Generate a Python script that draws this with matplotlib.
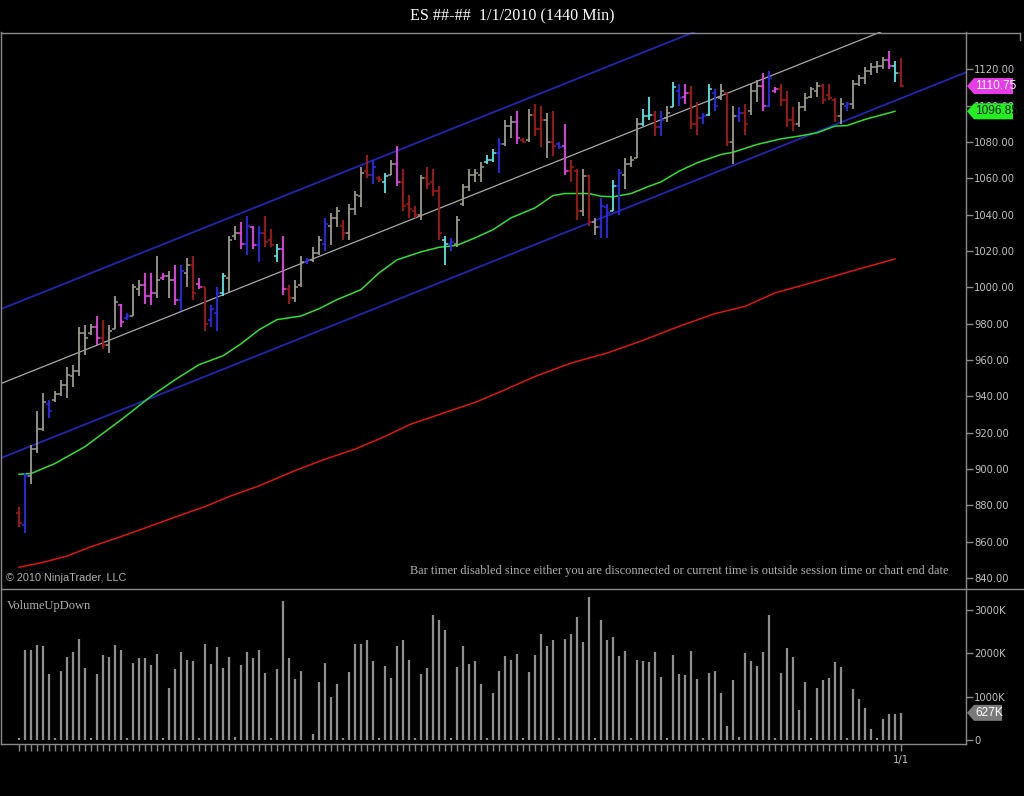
import numpy as np
import matplotlib
matplotlib.use("Agg")
import matplotlib.pyplot as plt
from matplotlib.patches import Polygon
from matplotlib.lines import Line2D
from matplotlib.transforms import blended_transform_factory

# ---------------- data ----------------
highs = [879, 898, 913, 932, 942, 938, 943, 949, 956, 957,
         978, 979, 980, 984, 982, 979, 995, 991, 986, 1002,
         1004, 1008, 1008, 1017, 1008, 1009, 1012, 1012, 1016, 1017,
         1005, 1000, 990, 1000, 1008, 1028, 1034, 1036, 1039, 1034,
         1034, 1039, 1032, 1024, 1028, 1001, 1004, 1017, 1016, 1022,
         1028, 1038, 1041, 1044, 1037, 1046, 1053, 1066, 1073, 1070,
         1061, 1063, 1070, 1078, 1065, 1051, 1045, 1062, 1066, 1065,
         1056, 1028, 1027, 1039, 1057, 1065, 1065, 1069, 1073, 1076,
         1082, 1092, 1094, 1097, 1082, 1098, 1101, 1100, 1096, 1097,
         1080, 1090, 1070, 1065, 1065, 1062, 1038, 1049, 1046, 1059,
         1065, 1071, 1072, 1093, 1098, 1105, 1097, 1097, 1100, 1113,
         1112, 1112, 1111, 1102, 1096, 1112, 1109, 1112, 1107, 1100,
         1099, 1101, 1112, 1114, 1118, 1119, 1110, 1112, 1108, 1099,
         1102, 1107, 1110, 1113, 1112, 1112, 1104, 1104, 1102, 1114,
         1117, 1121, 1123.5, 1124.5, 1127, 1130, 1124.5, 1126]
lows = [868, 865, 892, 909, 921, 928, 937, 940, 939, 945,
        951, 963, 974, 968, 966, 964, 977, 978, 982, 984,
        995, 991, 990, 994, 1004, 994, 990, 987, 1000, 993,
        999, 976, 978, 976, 995, 997, 1026, 1021, 1018, 1021,
        1014, 1022, 1022, 1014, 996, 991, 992, 1000, 1013, 1014,
        1018, 1020, 1023, 1033, 1026, 1026, 1040, 1044, 1060, 1057,
        1058, 1052, 1062, 1056, 1042, 1038, 1038, 1037, 1054, 1050,
        1026, 1012, 1020, 1022, 1045, 1053, 1058, 1058, 1068, 1069,
        1063, 1078, 1082, 1079, 1080, 1080, 1083, 1077, 1071, 1072,
        1076, 1062, 1058, 1037, 1039, 1034, 1029, 1027, 1027, 1042,
        1040, 1054, 1066, 1071, 1089, 1092, 1083, 1083, 1091, 1099,
        1100, 1101, 1087, 1084, 1090, 1094, 1097, 1103, 1078, 1068,
        1091, 1084, 1095, 1102, 1097, 1099, 1107, 1100, 1088, 1086,
        1088, 1097, 1104, 1105, 1101, 1103, 1091, 1090, 1097, 1098,
        1111, 1112, 1117, 1118, 1120, 1120, 1113, 1110.5]
opens = [876, 869, 896, 911, 922, 936, 938, 941, 946, 951,
         954, 975, 975, 978, 972, 968, 977, 990, 983, 984,
         999, 1001, 995, 997, 1005, 1006, 1004, 993, 1008, 1012,
         1002, 1000, 982, 986, 997, 1005, 1028, 1030, 1024, 1033,
         1023, 1030, 1026, 1017, 1021, 999, 994, 1001, 1014, 1015,
         1019, 1024, 1034, 1038, 1034, 1030, 1043, 1050, 1064, 1062,
         1060, 1058, 1062, 1068, 1058, 1046, 1042, 1040, 1060, 1058,
         1053, 1026, 1024, 1024, 1046, 1055, 1062, 1062, 1069, 1070,
         1074, 1079, 1089, 1091, 1081, 1081, 1095, 1087, 1092, 1080,
         1079, 1078, 1064, 1064, 1042, 1061, 1036, 1033, 1044, 1042,
         1056, 1062, 1068, 1071, 1090, 1094, 1095, 1088, 1093, 1099,
         1108, 1105, 1107, 1090, 1093, 1095, 1107, 1104, 1107, 1080,
         1094, 1096, 1097, 1108, 1111, 1100, 1108, 1109, 1103, 1092,
         1090, 1099, 1105, 1108, 1111, 1106, 1103, 1094, 1100, 1101,
         1112, 1115, 1119, 1121, 1122, 1125, 1122, 1118]
closes = [870, 896, 911, 922, 937, 932, 941, 946, 952, 954,
          975, 972, 978, 972, 968, 976, 992, 981, 984, 1000,
          1001, 995, 997, 1004, 1006, 1004, 993, 1009, 1012, 997,
          1000, 980, 988, 997, 1006, 1026, 1030, 1024, 1034, 1023,
          1030, 1025, 1023, 1021, 999, 994, 1000, 1014, 1015, 1019,
          1026, 1035, 1038, 1042, 1030, 1043, 1051, 1063, 1062, 1066,
          1059, 1061, 1068, 1058, 1045, 1043, 1040, 1060, 1057, 1053,
          1030, 1024, 1025, 1037, 1055, 1062, 1063, 1066, 1070, 1074,
          1079, 1089, 1091, 1082, 1080, 1095, 1087, 1092, 1080, 1078,
          1077, 1064, 1066, 1042, 1061, 1036, 1033, 1045, 1041, 1056,
          1063, 1068, 1070, 1090, 1094, 1095, 1088, 1092, 1096, 1110,
          1104, 1107, 1090, 1093, 1094, 1109, 1100, 1108, 1080, 1094,
          1096, 1090, 1108, 1111, 1100, 1115, 1109, 1103, 1092, 1090,
          1099, 1104, 1109, 1111, 1103, 1104, 1094, 1101, 1101, 1112,
          1115, 1119, 1121, 1122, 1125, 1122, 1118, 1110.75]
bar_codes = ("rbgggbgggg" "gggmrggmbg" "gmmgmgmbgr" "mrbbcggmbm"
             "brrcmrggbg" "gbggrgggrb" "rcgmrrrgrr" "rcbgggggcc"
             "bggmrgrrgr" "bmrrgrgbbc" "bgggccrbgc" "bmrrbcbgrg"
             "brggmbmrrr" "ggggrrrgbg" "gggggmcr")
volume_k = [50, 2080, 2080, 2190, 2170, 1520, 50, 1590, 1910, 2030,
            2320, 1660, 50, 1520, 1960, 1910, 2190, 2070, 50, 1780,
            1890, 1890, 1730, 1990, 50, 1190, 1640, 2030, 1840, 1820,
            50, 2220, 1760, 2140, 1660, 1910, 70, 1730, 2030, 1890,
            2070, 1550, 50, 1640, 3210, 1890, 1410, 1590, 0, 140,
            1330, 1780, 990, 1300, 50, 1570, 2220, 2220, 2300, 1820,
            50, 1700, 1430, 2180, 2300, 1850, 50, 1520, 1660, 2890,
            2760, 2540, 50, 1680, 2180, 1760, 1830, 1300, 50, 1090,
            1600, 1940, 1850, 1990, 50, 1570, 1960, 2450, 2180, 2310,
            50, 2330, 2450, 2840, 2260, 3310, 50, 2760, 2310, 2380,
            1940, 2050, 50, 1850, 1830, 1810, 2030, 1450, 50, 1960,
            1520, 1500, 2050, 1410, 50, 1550, 1590, 1090, 320, 1390,
            80, 2010, 1820, 1710, 2030, 2890, 50, 1550, 2120, 1910,
            690, 1340, 50, 1200, 1390, 1430, 1800, 1690, 50, 1180,
            950, 740, 250, 50, 480, 600, 600, 627]

# moving averages (read at bar indexes)
green_ma_idx = [0, 2, 6, 11, 17, 22, 26, 30, 34, 37, 40, 43, 47, 50, 53, 57,
                60, 63, 67, 70, 73, 76, 79, 82, 86, 89, 91, 95, 97, 99, 102,
                105, 107, 110, 113, 117, 119, 123, 127, 130, 133, 136, 138, 141, 146]
green_ma_val = [897.1, 897.5, 903.0, 912.3, 927.0, 940.0, 949.1, 957.4, 962.3,
                968.9, 976.6, 982.2, 984.2, 988.2, 993.2, 998.7, 1007.9, 1015.1,
                1019.5, 1022.0, 1023.1, 1027.2, 1031.7, 1038.2, 1043.7, 1050.5,
                1051.6, 1051.6, 1050.1, 1049.8, 1051.6, 1055.6, 1058.0, 1063.9,
                1068.5, 1073.1, 1074.3, 1078.6, 1081.7, 1083.2, 1085.0, 1088.7,
                1089.0, 1092.4, 1096.85]
red_ma_idx = [0, 4, 8, 12, 17, 22, 27, 31, 35, 40, 46, 51, 56, 61, 65, 71, 76,
              81, 86, 92, 98, 104, 110, 116, 121, 126, 132, 138, 146]
red_ma_val = [845.9, 848.6, 852.1, 857.2, 862.8, 868.7, 874.7, 879.3, 884.8,
              890.7, 899.1, 905.4, 910.9, 917.9, 924.3, 931.1, 936.6, 943.6,
              950.9, 958.3, 963.8, 970.8, 978.5, 985.5, 989.5, 996.9, 1002.4,
              1008.2, 1015.6]

# regression channel (midline value at first and last bar, half width)
chan_mid_first = 951.0
chan_mid_last = 1145.0
chan_half_width = 41.0

price_ticks = [840, 860, 880, 900, 920, 940, 960, 980, 1000, 1020, 1040,
               1060, 1080, 1100, 1120]
volume_ticks_k = [0, 1000, 2000, 3000]
volume_tick_labels = ["0", "1000K", "2000K", "3000K"]
last_price = 1110.75
green_ma_last = 1096.85
last_volume_k = 627
x_label_text = "1/1"

title = "ES ##-##  1/1/2010 (1440 Min)"
copyright_text = "\u00a9 2010 NinjaTrader, LLC"
timer_text = ("Bar timer disabled since either you are disconnected or current "
              "time is outside session time or chart end date")
vol_title = "VolumeUpDown"

# ---------------- styles ----------------
W, H = 1024, 796
BG = "black"
FRAME = "#8a8a8a"
TXT = "#c0c0c0"
color_map = {"g": "#9c9c8c", "m": "#ee44ee", "b": "#2b2bf0",
             "r": "#a81818", "c": "#55e8e8"}

n = len(highs)
idx = np.arange(n)
bar_colors = [color_map[ch] for ch in bar_codes]

fig = plt.figure(figsize=(W / 100, H / 100), dpi=100, facecolor=BG)

def fx(px):
    return px / W

def fy(py):
    return 1 - py / H

# price axes: x 1..966, y 32..588
ax = fig.add_axes([fx(1), fy(588), fx(965), (588 - 32) / H], facecolor=BG)
vax = fig.add_axes([fx(1), fy(744), fx(965), (744 - 589) / H], facecolor=BG)

xmin, xmax = -3.0, -3.0 + 965 / 6.0
ax.set_xlim(xmin, xmax)
vax.set_xlim(xmin, xmax)
ax.set_ylim(834.5, 1140.5)
vax.set_ylim(-92, 3485)

# channel lines
xs = np.array([xmin, xmax])
slope = (chan_mid_last - chan_mid_first) / (n - 1)
mid = chan_mid_first + slope * xs
ax.plot(xs, mid + chan_half_width, color="#2424b4", lw=1.3, zorder=2)
ax.plot(xs, mid - chan_half_width, color="#2424b4", lw=1.3, zorder=2)
ax.plot(xs, mid, color="#a8a8a8", lw=0.9, zorder=2)

# moving averages
ax.plot(red_ma_idx, red_ma_val, color="#dd1414", lw=1.1, zorder=3)
ax.plot(green_ma_idx, green_ma_val, color="#2ee02e", lw=1.1, zorder=3)

# OHLC bars
ax.vlines(idx, lows, highs, colors=bar_colors, lw=1.3, zorder=4)
ax.hlines(opens, idx - 0.42, idx, colors=bar_colors, lw=1.1, zorder=4)
ax.hlines(closes, idx, idx + 0.42, colors=bar_colors, lw=1.1, zorder=4)

# volume bars
vax.vlines(idx, 0, volume_k, colors="#8e8e8e", lw=1.6, zorder=3)

# axes styling
for a in (ax, vax):
    for s in a.spines.values():
        s.set_color(FRAME)
        s.set_linewidth(1.0)
    a.yaxis.tick_right()
    a.tick_params(axis="y", colors=FRAME, labelcolor=TXT, length=5, width=1,
                  pad=1, labelsize=7.2, direction="out")
ax.spines["top"].set_visible(False)
ax.spines["bottom"].set_visible(False)

ax.set_xticks([])
ax.set_yticks(price_ticks)
ax.set_yticklabels([f"{v:.2f}" for v in price_ticks])

vax.set_yticks(volume_ticks_k)
vax.set_yticklabels(volume_tick_labels)
vax.spines["top"].set_visible(False)
vax.set_xticks(idx)
vax.set_xticklabels([""] * (n - 1) + [x_label_text])
vax.tick_params(axis="x", colors=FRAME, labelcolor=TXT, length=5, width=1,
                pad=3, labelsize=7.2, direction="out")

# frame lines of the price panel that run across the label area
fig.add_artist(Line2D([fx(1), fx(1020)], [fy(32.5), fy(32.5)],
                      transform=fig.transFigure, color=FRAME, lw=1.0))
fig.add_artist(Line2D([fx(1020), fx(1020)], [fy(32.5), fy(40)],
                      transform=fig.transFigure, color=FRAME, lw=1.0))
fig.add_artist(Line2D([fx(1), fx(1024)], [fy(588.5), fy(588.5)],
                      transform=fig.transFigure, color=FRAME, lw=1.0))

# value markers on the right axis
def marker(axis, yval, half_h, face, text, tcolor, right_px):
    tr = blended_transform_factory(axis.transAxes, axis.transData)
    x0 = 1 + 1 / 965
    x1 = 1 + 8 / 965
    x2 = 1 + (right_px - 966) / 965
    poly = Polygon([(x0, yval), (x1, yval + half_h), (x2, yval + half_h),
                    (x2, yval - half_h), (x1, yval - half_h)], closed=True,
                   transform=tr, facecolor=face, edgecolor="none",
                   clip_on=False, zorder=10)
    axis.add_patch(poly)
    t = axis.text(1 + 9.5 / 965, yval, text, transform=tr, ha="left",
                  va="center", color=tcolor, fontsize=8.6,
                  family="Liberation Sans", zorder=11)
    t.set_clip_path(poly)

px_price = (1120 - 840) / (578 - 69.3)
marker(ax, last_price, 8 * px_price, "#e83ce8", f"{last_price:.2f}", "white", 1013)
marker(ax, green_ma_last, 8 * px_price, "#22ee22", f"{green_ma_last:.2f}", "#0a200a", 1013)
marker(vax, last_volume_k, 8 * 1000 / 43.33, "#7a7a7a", f"{last_volume_k}K", "white", 1002)

# texts
fig.text(0.5, fy(16), title, ha="center", va="center", color="white",
         family="Liberation Serif", fontsize=11.6)
fig.text(fx(6), fy(578), copyright_text, ha="left", va="center", color="#b0b0b0",
         family=["Liberation Sans Narrow", "Liberation Sans"], fontsize=7.8)
fig.text(fx(948), fy(571), timer_text, ha="right", va="center", color="#b0b0b0",
         family="Liberation Serif", fontsize=8.9)
fig.text(fx(7), fy(606), vol_title, ha="left", va="center", color="#b0b0b0",
         family="Liberation Serif", fontsize=9)

fig.savefig("out.png", dpi=100, facecolor=BG)
